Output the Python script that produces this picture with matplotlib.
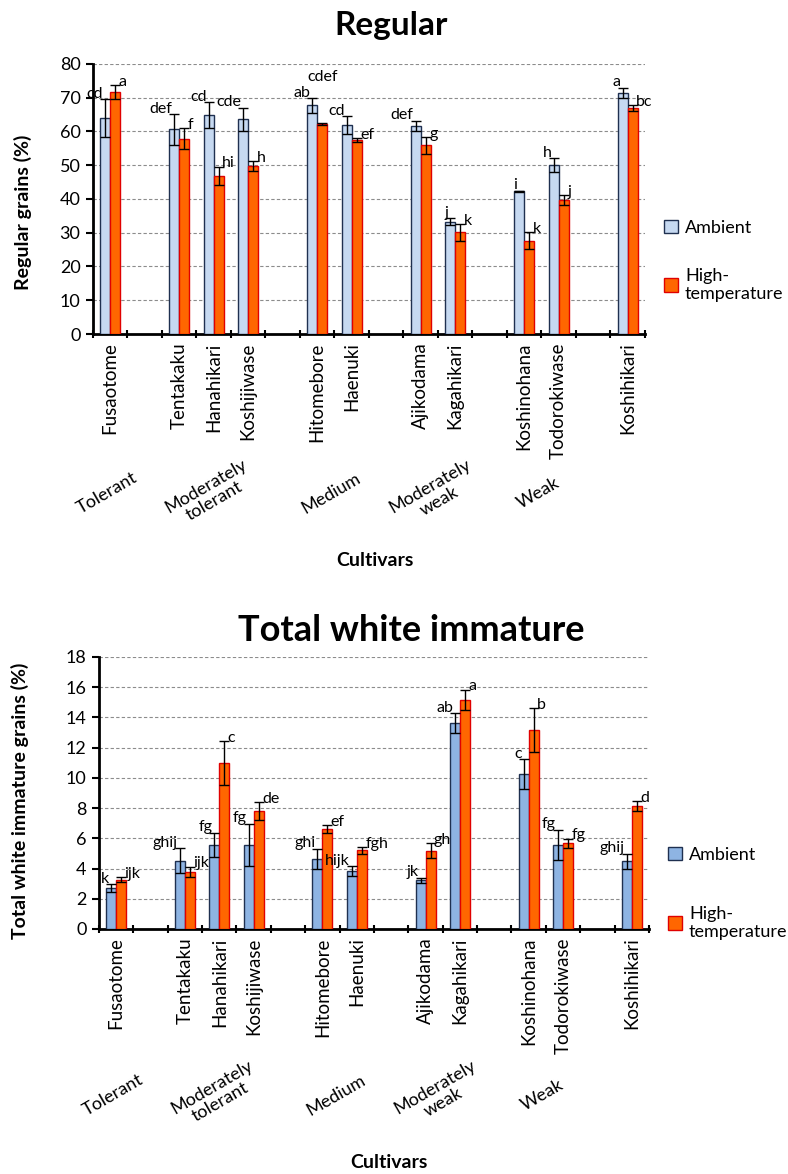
import numpy as np
import matplotlib
matplotlib.use("Agg")
import matplotlib.pyplot as plt
import matplotlib.transforms as mtransforms

plt.rcParams['font.family'] = ['Lato', 'DejaVu Sans']

# cultivar groups (tolerance class) and their members
group_names = ["Tolerant", "Moderately\ntolerant", "Medium", "Moderately\nweak", "Weak", ""]
group_members = [["Fusaotome"],
                 ["Tentakaku", "Hanahikari", "Koshijiwase"],
                 ["Hitomebore", "Haenuki"],
                 ["Ajikodama", "Kagahikari"],
                 ["Koshinohana", "Todorokiwase"],
                 ["Koshihikari"]]

# Regular grains (%)
reg_amb = [64.0, 60.6, 64.8, 63.6, 67.7, 61.9, 61.7, 33.3, 42.3, 50.0, 71.5]
reg_amb_err = [5.6, 4.6, 3.8, 3.4, 2.2, 2.7, 1.5, 1.0, 0.2, 2.1, 1.5]
reg_ht = [71.7, 57.9, 46.8, 49.8, 62.2, 57.5, 55.9, 30.1, 27.7, 39.7, 67.0]
reg_ht_err = [2.1, 3.0, 2.8, 1.4, 0.2, 0.6, 2.5, 2.4, 2.4, 1.4, 0.9]
reg_amb_lab = ["cd", "def", "cd", "cde", "ab", "cd", "def", "j", "i", "h", "a"]
reg_ht_lab = ["a", "f", "hi", "h", "cdef", "ef", "g", "k", "k", "j", "bc"]

# Total white immature grains (%)
twi_amb = [2.70, 4.53, 5.57, 5.57, 4.64, 3.83, 3.23, 13.62, 10.24, 5.57, 4.47]
twi_amb_err = [0.25, 0.80, 0.80, 1.40, 0.66, 0.31, 0.17, 0.65, 1.00, 1.00, 0.50]
twi_ht = [3.27, 3.80, 10.99, 7.81, 6.59, 5.20, 5.17, 15.15, 13.14, 5.66, 8.16]
twi_ht_err = [0.15, 0.33, 1.46, 0.60, 0.26, 0.24, 0.50, 0.68, 1.46, 0.32, 0.32]
twi_amb_lab = ["k", "ghij", "fg", "fg", "ghi", "hijk", "jk", "ab", "c", "fg", "ghij"]
twi_ht_lab = ["ijk", "ijk", "c", "de", "ef", "fgh", "gh", "a", "b", "fg", "d"]

# slot positions: one empty slot between groups
pos, names, centers = [], [], []
p = 0
for members in group_members:
    start = p
    for m in members:
        pos.append(p)
        names.append(m)
        p += 1
    centers.append((start + p - 1) / 2)
    p += 1
pos = np.array(pos)
last = pos[-1]

HT_COLOR = "#FF6600"
HT_EDGE = "#E00000"
AMB_EDGE = "#1F3050"
w = 0.29

fig = plt.figure(figsize=(7.88, 11.74), dpi=100)


def draw_panel(ax, amb, amb_err, ht, ht_err, amb_lab, ht_lab, amb_color,
               ymax, ystep, title, ylabel, title_xy, title_size, cult_xy,
               ylab_xy, leg_y, leg_space, group_y, raised=None):
    ax.bar(pos - w / 2, amb, w, color=amb_color, edgecolor=AMB_EDGE, linewidth=1.0,
           label="Ambient", zorder=3)
    ax.bar(pos + w / 2, ht, w, color=HT_COLOR, edgecolor=HT_EDGE, linewidth=1.0,
           label="High-\ntemperature", zorder=3)
    ax.errorbar(pos - w / 2, amb, yerr=amb_err, fmt="none", ecolor="black",
                elinewidth=1.0, capsize=3.5, capthick=1.0, zorder=4)
    ax.errorbar(pos + w / 2, ht, yerr=ht_err, fmt="none", ecolor="black",
                elinewidth=1.0, capsize=3.5, capthick=1.0, zorder=4)

    lift = 0.02 * ymax
    for i in range(len(pos)):
        ax.text(pos[i] - w / 2 - 0.06, amb[i] + amb_err[i] + lift, amb_lab[i],
                ha="right", va="center", fontsize=11.5, zorder=5)
        if raised is not None and i == raised:
            # label sits higher to clear the neighbour
            ax.text(pos[i] + w / 2, ht[i] + ht_err[i] + 0.17 * ymax, ht_lab[i],
                    ha="center", va="center", fontsize=11.5, zorder=5)
        else:
            ax.text(pos[i] + w / 2 + 0.1, ht[i] + ht_err[i] + lift * 0.6, ht_lab[i],
                    ha="left", va="center", fontsize=11.5, zorder=5)

    ax.set_xlim(-0.5, last + 0.5)
    ax.set_ylim(0, ymax)
    ax.set_yticks(np.arange(0, ymax + 0.1, ystep))
    ax.yaxis.grid(True, linestyle=(0, (3, 2)), color="#8C8C8C", linewidth=0.8, zorder=0)
    ax.set_axisbelow(True)

    ax.set_xticks(pos)
    ax.set_xticklabels(names, rotation=90, fontsize=13.5)
    ax.set_xticks(np.arange(-0.5, last + 1), minor=True)
    ax.tick_params(axis="x", which="major", length=0, pad=6)
    ax.tick_params(axis="x", which="minor", length=6, width=1.5, direction="inout")
    ax.tick_params(axis="y", length=5, width=1.5, labelsize=13, pad=4)

    for s in ["top", "right"]:
        ax.spines[s].set_visible(False)
    for s in ["left", "bottom"]:
        ax.spines[s].set_linewidth(2.0)

    trans = mtransforms.blended_transform_factory(ax.transData, ax.transAxes)
    for c, g in zip(centers, group_names):
        if g:
            ax.text(c - 0.1, group_y, g, transform=trans, rotation=30, ha="center",
                    va="center", rotation_mode="anchor", fontsize=13,
                    multialignment="center", linespacing=1.1)

    ax.set_ylabel(ylabel, fontsize=14, fontweight="bold")
    ax.yaxis.set_label_coords(*ylab_xy)
    fig.text(title_xy[0], title_xy[1], title, ha="center", va="center",
             fontsize=title_size, fontweight="bold")
    ax.text(cult_xy[0], cult_xy[1], "Cultivars", transform=ax.transAxes, ha="center",
            va="center", fontsize=14, fontweight="bold")

    ax.legend(loc="center left", bbox_to_anchor=(1.035, leg_y), frameon=False,
              fontsize=13, labelspacing=leg_space, handlelength=0.75, handleheight=0.75,
              handletextpad=0.4, borderpad=0, borderaxespad=0)


ax1 = fig.add_axes([0.118, 0.7155, 0.7005, 0.230])
draw_panel(ax1, reg_amb, reg_amb_err, reg_ht, reg_ht_err, reg_amb_lab, reg_ht_lab,
           "#C6D9F1", 80, 10, "Regular", "Regular grains (%)", (0.496, 0.978), 24,
           (0.51, -0.84), (-0.11, 0.45), 0.27, 1.75, -0.59, raised=4)

ax2 = fig.add_axes([0.1256, 0.2087, 0.698, 0.2317])
draw_panel(ax2, twi_amb, twi_amb_err, twi_ht, twi_ht_err, twi_amb_lab, twi_ht_lab,
           "#8EB4E3", 18, 2, "Total white immature", "Total white immature grains (%)",
           (0.522, 0.463), 26, (0.527, -0.86), (-0.128, 0.47), 0.13, 2.35, -0.61)

fig.savefig("out.png", dpi=100)
